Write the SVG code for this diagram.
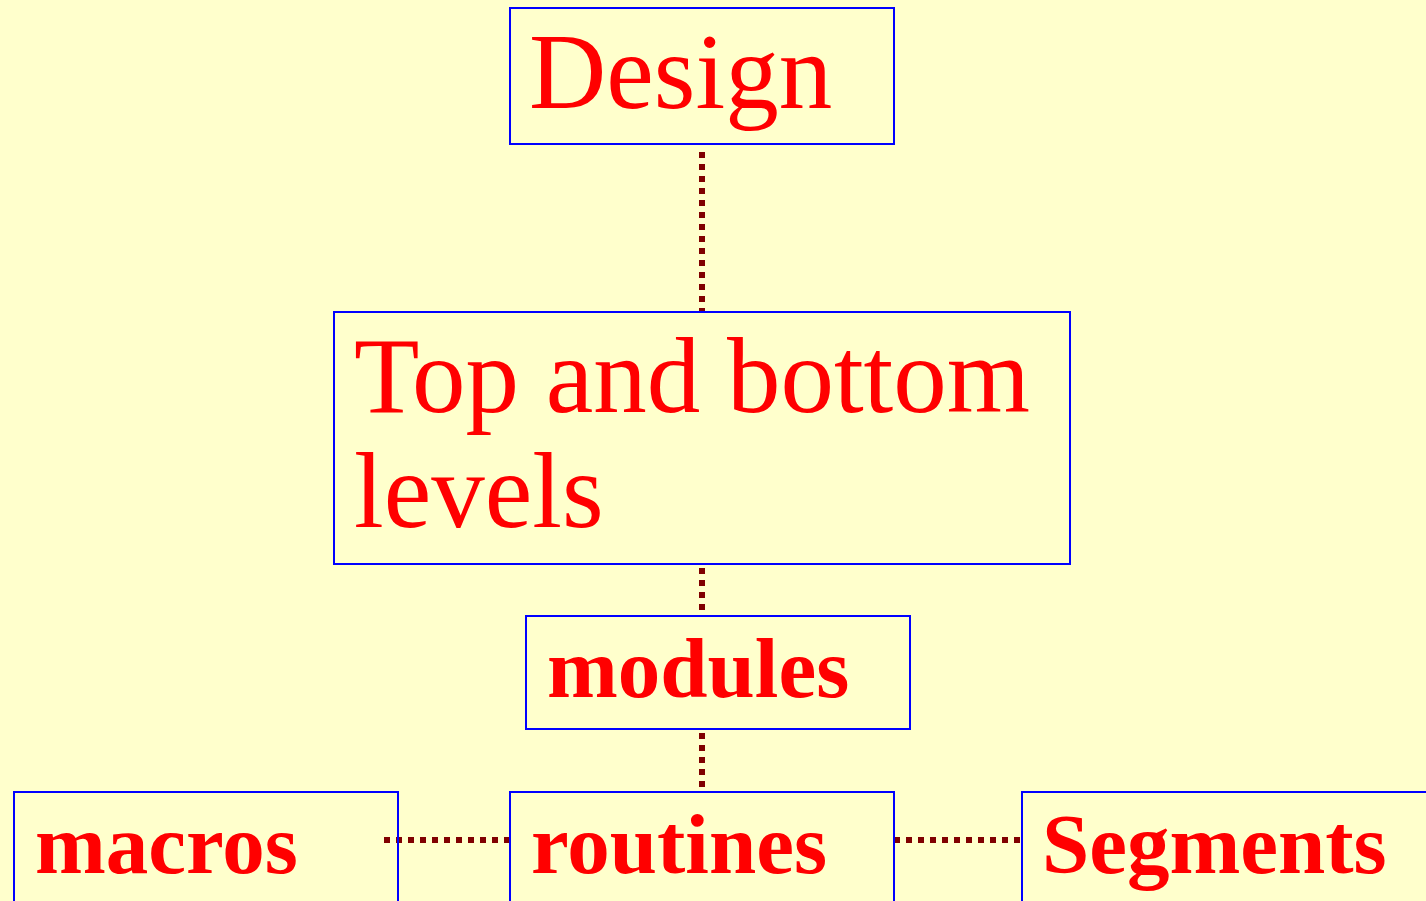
<svg xmlns="http://www.w3.org/2000/svg" width="1426" height="901" viewBox="0 0 1426 901">
  <style>
    .box { fill: none; stroke: #0000FF; stroke-width: 2; }
    .link { stroke: #800000; stroke-width: 6; stroke-dasharray: 6 6; fill: none; }
    .big { font-family: "Liberation Serif", "Times New Roman", serif; font-size: 107px; fill: #FF0000; }
    .bold { font-family: "Liberation Serif", "Times New Roman", serif; font-size: 85px; font-weight: bold; fill: #FF0000; }
  </style>
  <rect width="1426" height="901" fill="#FFFFCC"/>

  <g id="connectors">
    <line class="link" x1="702" y1="152" x2="702" y2="311"/>
    <line class="link" x1="702" y1="568" x2="702" y2="614"/>
    <line class="link" x1="702" y1="733" x2="702" y2="791"/>
    <line class="link" x1="384" y1="840" x2="510" y2="840"/>
    <line class="link" x1="894" y1="840" x2="1021" y2="840"/>
  </g>

  <g id="design">
    <rect class="box" x="510" y="8" width="384" height="136"/>
    <text class="big" x="529" y="108">Design</text>
  </g>

  <g id="levels">
    <rect class="box" x="334" y="312" width="736" height="252"/>
    <text class="big" x="354" y="412">Top and bottom</text>
    <text class="big" x="354" y="527">levels</text>
  </g>

  <g id="modules">
    <rect class="box" x="526" y="616" width="384" height="113"/>
    <text class="bold" x="547" y="697">modules</text>
  </g>

  <g id="macros">
    <rect class="box" x="14" y="792" width="384" height="120"/>
    <text class="bold" x="35" y="873">macros</text>
  </g>

  <g id="routines">
    <rect class="box" x="510" y="792" width="384" height="120"/>
    <text class="bold" x="531" y="873">routines</text>
  </g>

  <g id="segments">
    <rect class="box" x="1022" y="792" width="420" height="120"/>
    <text class="bold" x="1042" y="873">Segments</text>
  </g>
</svg>
